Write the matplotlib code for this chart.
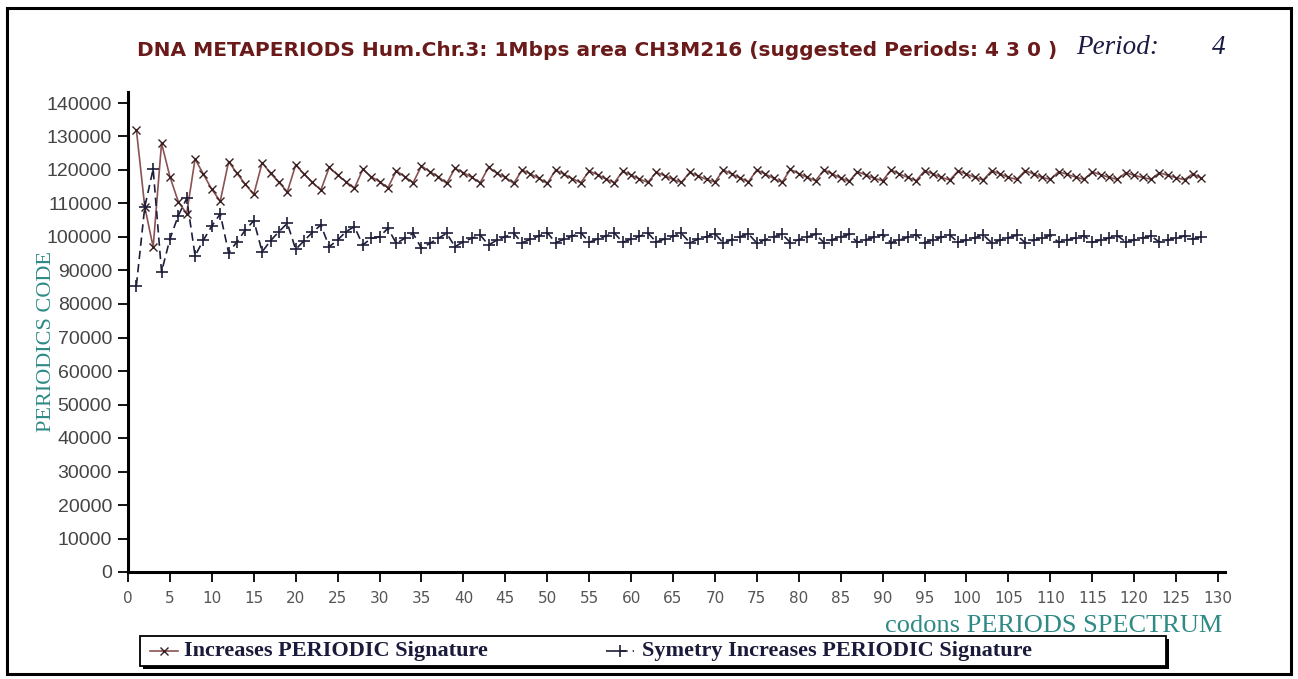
import numpy as np
import matplotlib
matplotlib.use("Agg")
import matplotlib.pyplot as plt
from matplotlib.patches import Rectangle
from matplotlib.lines import Line2D

W, H = 1298, 679

periods = np.arange(1, 129)

# Increases PERIODIC Signature
increases = [
    132000, 109000, 97000, 128000, 118000, 110500, 107000, 123300,
    118700, 114200, 110700, 122500, 119000, 115700, 112700, 122200,
    119000, 116300, 113500, 121500, 118800, 116300, 114000, 120800,
    118500, 116500, 114500, 120200, 118000, 116500, 114700, 119800,
    118000, 116200, 121200, 119500, 118000, 116000, 120500, 119200,
    117800, 116200, 120800, 119000, 117800, 116000, 120000, 118800,
    117500, 116000, 120000, 118700, 117400, 116200, 119700, 118600,
    117300, 116200, 119600, 118500, 117300, 116300, 119300, 118300,
    117200, 116300, 119300, 118200, 117200, 116400, 120000, 118800,
    117600, 116500, 120000, 118800, 117500, 116300, 120200, 118900,
    117800, 116800, 120000, 118800, 117600, 116600, 119500, 118500,
    117500, 116800, 120000, 118800, 117800, 116800, 119800, 118800,
    117800, 117000, 119700, 118800, 117800, 117000, 119800, 118800,
    117800, 117200, 119800, 118800, 117800, 117200, 119500, 118700,
    117900, 117200, 119400, 118600, 117800, 117200, 119200, 118400,
    117800, 117200, 119200, 118400, 117700, 117100, 118900, 117500,
]

# Symetry Increases PERIODIC Signature
symmetry = [
    85500, 109000, 120300, 89600, 99400, 106400, 111500, 94400,
    99100, 103300, 106900, 95300, 98600, 102100, 104900, 95600,
    98900, 101600, 104100, 96300, 98900, 101400, 103600, 97100,
    99100, 101600, 103100, 97600, 99600, 100100, 102600, 98100,
    99600, 101100, 96600, 98100, 99600, 101100, 97100, 98600,
    99600, 100600, 97600, 99100, 100100, 101100, 98300, 99300,
    100300, 101300, 98300, 99300, 100300, 101300, 98400, 99400,
    100300, 101200, 98400, 99400, 100200, 101200, 98500, 99400,
    100200, 101100, 98300, 99300, 100100, 101000, 98200, 99200,
    100100, 100900, 98200, 99200, 100000, 100900, 98300, 99200,
    100000, 100800, 98300, 99200, 100000, 100800, 98400, 99200,
    99900, 100700, 98300, 99100, 99900, 100700, 98300, 99100,
    99900, 100600, 98400, 99100, 99800, 100600, 98300, 99000,
    99800, 100500, 98300, 99000, 99700, 100500, 98400, 99100,
    99700, 100400, 98400, 99100, 99700, 100400, 98500, 99100,
    99700, 100300, 98500, 99100, 99700, 100300, 99400, 100000,
]

y_ticks = np.arange(0, 140001, 10000)
x_ticks = np.arange(0, 131, 5)

title = "DNA METAPERIODS Hum.Chr.3: 1Mbps area CH3M216 (suggested Periods: 4 3 0 )"
legend_labels = ["Increases PERIODIC Signature",
                 "Symetry Increases PERIODIC Signature"]

C1_LINE, C1_MARK = "#8a5252", "#3a2020"
C2 = "#1e1e3a"
TEAL = "#2f8a86"


def fx(px):
    return px / W


def fy(py):
    return 1 - py / H


fig = plt.figure(figsize=(W / 100, H / 100), dpi=100)
fig.patch.set_facecolor("white")

# outer frame
fig.patches.append(Rectangle((fx(7), fy(674)), 1284 / W, 666 / H,
                             transform=fig.transFigure, fill=False,
                             edgecolor="black", linewidth=2.2))

ax = fig.add_axes([fx(128), fy(572), 1097 / W, 480 / H])
ax.set_xlim(0, 1097 / 8.385)
ax.set_ylim(0, 480 / 3.35 * 1000)

ax.plot(periods, increases, color=C1_LINE, lw=1.2, marker="x",
        ms=6, mec=C1_MARK, mew=1.0)
ax.plot(periods, symmetry, color=C2, lw=1.2, ls=(0, (5, 3)),
        marker="+", ms=9, mec=C2, mew=1.2)

for s in ("top", "right"):
    ax.spines[s].set_visible(False)
for s in ("left", "bottom"):
    ax.spines[s].set_linewidth(2.2)
    ax.spines[s].set_color("black")

ax.set_yticks(y_ticks)
ax.set_yticklabels([str(v) for v in y_ticks], fontsize=14, color="#444444",
                   family="Liberation Sans")
ax.set_xticks(x_ticks)
ax.set_xticklabels([str(v) for v in x_ticks], fontsize=11, color="#555555",
                   family="DejaVu Sans")
ax.tick_params(axis="both", direction="out", length=7.5, width=1.3, color="black")
ax.tick_params(axis="y", pad=4)
ax.tick_params(axis="x", pad=6)

fig.text(fx(47), fy(342), "PERIODICS CODE", rotation=90, ha="center",
         va="center", fontsize=16, color=TEAL, family="Liberation Serif")
fig.text(fx(1222), fy(626), "codons PERIODS SPECTRUM", ha="right",
         va="center", fontsize=19, color=TEAL, family="Liberation Serif")

fig.text(fx(137), fy(50), title, ha="left", va="center", fontsize=14.5,
         fontweight="bold", color="#6b1a1a", family="DejaVu Sans")
fig.text(fx(1076), fy(47), "Period:", ha="left", va="center", fontsize=19.5,
         style="italic", color="#1a1a44", family="Liberation Serif")
fig.text(fx(1226), fy(47), "4", ha="right", va="center", fontsize=19.5,
         style="italic", color="#1a1a44", family="Liberation Serif")

# legend box with a solid drop shadow
box_l, box_r, box_t, box_b = 140, 1166, 636, 666
fig.patches.append(Rectangle((fx(box_l + 3), fy(box_b + 3)), (box_r - box_l) / W,
                             (box_b - box_t) / H, transform=fig.transFigure,
                             facecolor="black", edgecolor="black", lw=0))
fig.patches.append(Rectangle((fx(box_l), fy(box_b)), (box_r - box_l) / W,
                             (box_b - box_t) / H, transform=fig.transFigure,
                             facecolor="white", edgecolor="black", lw=1.3))
yl = (box_t + box_b) / 2
fig.lines.append(Line2D([fx(150), fx(178)], [fy(yl), fy(yl)],
                        transform=fig.transFigure, color=C1_LINE, lw=1.2))
fig.lines.append(Line2D([fx(164)], [fy(yl)], transform=fig.transFigure,
                        ls="none", marker="x", ms=6, mec=C1_MARK, mew=1.0))
fig.lines.append(Line2D([fx(606), fx(634)], [fy(yl), fy(yl)],
                        transform=fig.transFigure, color=C2, lw=1.2,
                        ls=(0, (5, 3))))
fig.lines.append(Line2D([fx(620)], [fy(yl)], transform=fig.transFigure,
                        ls="none", marker="+", ms=9, mec=C2, mew=1.2))
fig.text(fx(184), fy(yl), legend_labels[0], ha="left", va="center", fontsize=16,
         fontweight="bold", color="#1a1a3a", family="Liberation Serif")
fig.text(fx(642), fy(yl), legend_labels[1], ha="left", va="center", fontsize=16,
         fontweight="bold", color="#1a1a3a", family="Liberation Serif")

fig.savefig("out.png", dpi=100)
